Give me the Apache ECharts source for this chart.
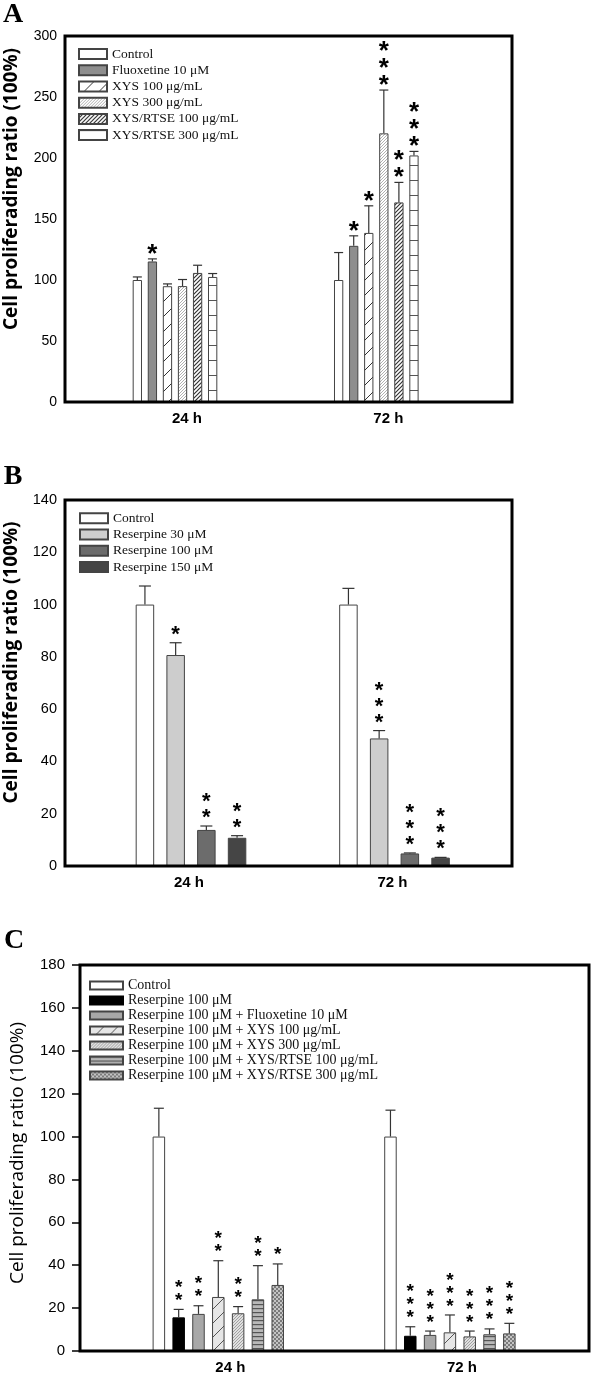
<!DOCTYPE html>
<html><head><meta charset="utf-8">
<script src="https://cdn.jsdelivr.net/npm/echarts@6/dist/echarts.min.js"></script>
<style>
html,body{margin:0;padding:0;background:#fff}
.p{position:absolute;left:0;width:600px}
#ca{top:0;height:460px}#cb{top:460px;height:460px}#cc{top:920px;height:456px}
</style>
</head><body>
<div id="ca" class="p"></div><div id="cb" class="p"></div><div id="cc" class="p"></div>
<script>
// ---------- data ----------
const categories = ['24 h', '72 h'];
const yTitle = 'Cell proliferading ratio (100%)';

// Panel A
const aNames = ['Control', 'Fluoxetine 10 μM', 'XYS 100 μg/mL', 'XYS 300 μg/mL', 'XYS/RTSE 100 μg/mL', 'XYS/RTSE 300 μg/mL'];
const aMeans = [[100, 100], [115.2, 128], [94.9, 138.6], [95, 220.2], [105.8, 163.6], [102.5, 202.1]];
const aErrTop = [[102.5, 122.5], [117.3, 136.2], [96.8, 160.8], [100.4, 255.7], [112.1, 180], [105.3, 205.4]];
const aStars = [[0, 0], [1, 1], [0, 1], [0, 3], [0, 2], [0, 3]];
const aTicks = [0, 50, 100, 150, 200, 250, 300];

// Panel B
const bNames = ['Control', 'Reserpine 30 μM', 'Reserpine 100 μM', 'Reserpine 150 μM'];
const bMeans = [[100, 100], [80.7, 48.8], [13.8, 4.8], [10.8, 3.2]];
const bErrTop = [[107.1, 106.2], [85.4, 51.8], [15.3, 5.0], [11.6, 3.3]];
const bStars = [[0, 0], [1, 3], [2, 3], [2, 3]];
const bTicks = [0, 20, 40, 60, 80, 100, 120, 140];

// Panel C
const cNames = ['Control', 'Reserpine 100 μM', 'Reserpine 100 μM + Fluoxetine 10 μM', 'Reserpine 100 μM + XYS 100 μg/mL',
  'Reserpine 100 μM + XYS 300 μg/mL', 'Reserpine 100 μM + XYS/RTSE 100 μg/mL', 'Reserpine 100 μM + XYS/RTSE 300 μg/mL'];
const cMeans = [[100, 100], [15.7, 7.1], [17.3, 7.5], [25.2, 8.7], [17.6, 6.8], [24.1, 7.8], [30.8, 8.2]];
const cErrTop = [[113.2, 112.3], [19.4, 11.3], [21.1, 9.3], [42.1, 16.8], [20.7, 9.3], [39.8, 10.3], [40.6, 12.9]];
const cStars = [[0, 0], [2, 3], [2, 3], [2, 3], [2, 3], [2, 3], [1, 3]];
const cTicks = [0, 20, 40, 60, 80, 100, 120, 140, 160, 180];

// ---------- patterns ----------
function pat(bg, w, h, draw) {
  const c = document.createElement('canvas'); c.width = w; c.height = h;
  const g = c.getContext('2d'); g.fillStyle = bg; g.fillRect(0, 0, w, h); draw(g, w, h);
  return { image: c, repeat: 'repeat' };
}
function diag(bg, stroke, s, lw) {
  return pat(bg, s, s, (g) => {
    g.strokeStyle = stroke; g.lineWidth = lw; g.beginPath();
    g.moveTo(0, s); g.lineTo(s, 0);
    g.moveTo(-2, 2); g.lineTo(2, -2);
    g.moveTo(s - 2, s + 2); g.lineTo(s + 2, s - 2);
    g.stroke();
  });
}
function horiz(bg, stroke, s, lw) {
  return pat(bg, 4, s, (g) => { g.fillStyle = stroke; g.fillRect(0, 0, 4, lw); });
}
function checker(bg, fg) {
  return pat(bg, 4, 4, (g) => { g.fillStyle = fg; g.fillRect(0, 0, 2, 2); g.fillRect(2, 2, 2, 2); });
}

const aFills = ['#ffffff', '#8e8e8e', diag('#ffffff', '#333', 15, 1), diag('#ffffff', '#a8a8a8', 3, 0.9),
  diag('#ffffff', '#333', 4, 1.2), horiz('#ffffff', '#555', 15.5, 1)];
const bFills = ['#ffffff', '#cdcdcd', '#6c6c6c', '#454545'];
const cFills = ['#ffffff', '#000000', '#a8a8a8', diag('#e6e6e6', '#555', 14, 1), diag('#e0e0e0', '#9a9a9a', 3, 0.9),
  horiz('#b8b8b8', '#555', 4, 1.2), checker('#c4c4c4', '#7a7a7a')];

// ---------- helpers ----------
const SANS = '"Liberation Sans", Arial, sans-serif';
const SERIF = '"Liberation Serif", "Times New Roman", serif';

function errRender(n, idx, bw, gap, capW, sf, pitch, sgap) {
  return function (params, api) {
    const cat = api.value(0), mean = api.value(1), top = api.value(2), ns = api.value(3);
    const base = api.coord([cat, mean]);
    const x = base[0] + (idx - (n - 1) / 2) * bw * (1 + gap);
    const yM = base[1], yT = api.coord([cat, top])[1];
    const ch = [
      { type: 'line', shape: { x1: x, y1: yM, x2: x, y2: yT }, style: { stroke: '#333', lineWidth: 1.2 } },
      { type: 'line', shape: { x1: x - capW / 2, y1: yT, x2: x + capW / 2, y2: yT }, style: { stroke: '#333', lineWidth: 1.2 } }
    ];
    for (let k = 0; k < ns; k++) {
      const cy = yT - sgap - k * pitch;
      ch.push({ type: 'text', x: x, y: cy + 0.226 * sf,
        style: { text: '*', font: 'bold ' + sf + 'px ' + SANS, fill: '#000', align: 'center', verticalAlign: 'middle' } });
    }
    return { type: 'group', children: ch };
  };
}

function build(cfg) {
  const n = cfg.names.length;
  const series = [];
  cfg.names.forEach((name, i) => {
    series.push({
      type: 'bar', name: name, xAxisIndex: 1, yAxisIndex: 1,
      barWidth: cfg.bw, barGap: (cfg.gap * 100) + '%',
      data: cfg.means[i],
      itemStyle: { color: cfg.fills[i], borderColor: cfg.border[i] || '#444', borderWidth: 1 },
      z: 3
    });
  });
  cfg.names.forEach((name, i) => {
    series.push({
      type: 'custom', name: 'err' + i, xAxisIndex: 1, yAxisIndex: 1, z: 4,
      renderItem: errRender(n, i, cfg.bw, cfg.gap, cfg.cap, cfg.sf, cfg.pitch, cfg.sgap),
      data: categories.map((c, j) => [j, cfg.means[i][j], cfg.errTop[i][j], cfg.stars[i][j]])
    });
  });
  const t = cfg.ticks;
  const yCommon = { type: 'value', min: t[0], max: t[t.length - 1], interval: t[1] - t[0] };
  return {
    animation: false,
    grid: [
      Object.assign({ show: true, borderColor: '#000', borderWidth: 3, z: 10 }, cfg.frame),
      Object.assign({}, cfg.inner)
    ],
    xAxis: [
      { type: 'category', gridIndex: 0, data: categories, show: false },
      { type: 'category', gridIndex: 1, data: categories, axisLine: { show: false }, axisTick: { show: false },
        axisLabel: { fontFamily: SANS, fontWeight: 'bold', fontSize: 15, color: '#000', margin: 9, padding: cfg.labelPad } }
    ],
    yAxis: [
      Object.assign({ gridIndex: 0, axisLine: { show: false }, splitLine: { show: false },
        axisTick: cfg.ticksOut ? { show: true, length: 8, lineStyle: { color: '#000', width: 1.5 } } : { show: false },
        axisLabel: { fontFamily: SANS, fontSize: cfg.tickFont, color: '#000', margin: cfg.labelMargin } }, yCommon),
      Object.assign({ gridIndex: 1, show: false, splitLine: { show: false } }, yCommon)
    ],
    legend: Object.assign({
      orient: 'vertical', icon: 'rect', selectedMode: false, data: cfg.names, itemGap: 0, padding: 0,
      textStyle: { fontFamily: SERIF, color: '#111' }
    }, cfg.legend),
    graphic: [
      { type: 'text', x: cfg.letter[0], y: cfg.letter[1], style: { text: cfg.letterText, font: 'bold 28px ' + SERIF, fill: '#000', align: 'center', verticalAlign: 'middle' } },
      { type: 'text', x: cfg.title[0], y: cfg.title[1], rotation: Math.PI / 2,
        style: { text: yTitle, font: cfg.titleFont, fill: '#000', align: 'center', verticalAlign: 'middle' } }
    ],
    series: series
  };
}

const optA = build({
  names: aNames, means: aMeans, errTop: aErrTop, stars: aStars, ticks: aTicks, fills: aFills, border: [],
  bw: 9.3, gap: 0.62, cap: 9, sf: 26, pitch: 17, sgap: 10, tickFont: 14,
  frame: { left: 65, right: 88, top: 36, bottom: 58 },
  inner: { left: 74.35, right: 123.05, top: 36, bottom: 58 },
  labelPad: [0, 0, 0, 24], labelMargin: 8, ticksOut: false,
  legend: { left: 78, top: 46, itemWidth: 28, itemHeight: 10, textStyle: { fontFamily: SERIF, fontSize: 13.5, lineHeight: 16.2, color: '#111' } },
  letter: [13, 15], letterText: 'A', title: [12, 189], titleFont: 'bold 19px "Open Sans", sans-serif'
});
const optB = build({
  names: bNames, means: bMeans, errTop: bErrTop, stars: bStars, ticks: bTicks, fills: bFills, border: [],
  bw: 18.5, gap: 0.66, cap: 12, sf: 22, pitch: 16, sgap: 13, tickFont: 14.5,
  frame: { left: 65, right: 88, top: 40, bottom: 54 },
  inner: { left: 89.25, right: 103.75, top: 40, bottom: 54 },
  labelPad: [0, 4, 0, 0], labelMargin: 8, ticksOut: false,
  legend: { left: 79, top: 50, itemWidth: 28, itemHeight: 10, textStyle: { fontFamily: SERIF, fontSize: 13.5, lineHeight: 16.3, color: '#111' } },
  letter: [13, 17], letterText: 'B', title: [12, 202.5], titleFont: 'bold 19px "Open Sans", sans-serif'
});
const optC = build({
  names: cNames, means: cMeans, errTop: cErrTop, stars: cStars, ticks: cTicks, fills: cFills, border: ['#444', '#000'],
  bw: 12.5, gap: 0.585, cap: 10, sf: 19, pitch: 13, sgap: 13, tickFont: 15,
  frame: { left: 80, right: 11, top: 45, bottom: 25 },
  inner: { left: 102.5, right: 34.3, top: 45, bottom: 25 },
  labelPad: [0, 0, 0, 24], labelMargin: 15, ticksOut: true,
  legend: { left: 89, top: 58, itemWidth: 33, itemHeight: 8, textStyle: { fontFamily: SERIF, fontSize: 14, lineHeight: 15, color: '#111' } },
  letter: [14, 21], letterText: 'C', title: [18, 233], titleFont: '19px "Open Sans", sans-serif'
});

echarts.init(document.getElementById('ca'), null, { renderer: 'canvas' }).setOption(optA);
echarts.init(document.getElementById('cb'), null, { renderer: 'canvas' }).setOption(optB);
echarts.init(document.getElementById('cc'), null, { renderer: 'canvas' }).setOption(optC);
</script>
</body></html>
